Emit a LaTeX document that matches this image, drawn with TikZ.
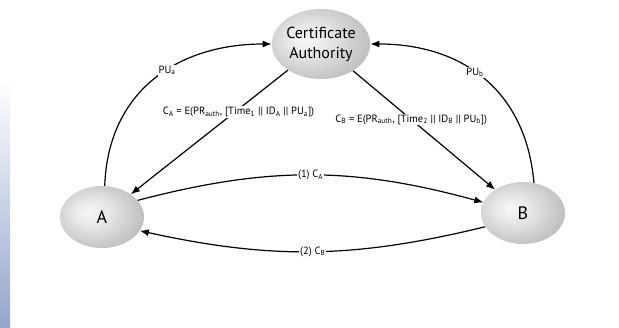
\documentclass[tikz,border=0pt]{standalone}
\usepackage{fontspec}
\setmainfont{PT Sans}
\usetikzlibrary{shapes.geometric,arrows.meta}
\pgfdeclareradialshading{partyball}{\pgfpoint{-8bp}{4bp}}{color(0bp)=(white!97!black); color(10bp)=(white!91!black); color(28bp)=(white!76!black); color(44bp)=(white!62!black); color(54bp)=(white!55!black); color(64bp)=(white!52!black)}
\definecolor{stripblue}{RGB}{148,166,204}
\begin{document}
\begin{tikzpicture}[x=1pt,y=1pt,
   party/.style={ellipse,shading=partyball,minimum width=84pt,minimum height=62pt,
     inner sep=0pt,font=\fontsize{16}{20}\selectfont},
   msg/.style={-{Latex[length=9pt,width=7pt]},line width=1.2pt},
   lbl/.style={fill=white,inner sep=1pt,font=\fontsize{10.5}{12}\selectfont}]
   \useasboundingbox (0,0) rectangle (619,327);
   \shade[top color=white,bottom color=stripblue] (0,0) rectangle (10,247);

   \node[party,minimum width=98pt,minimum height=70pt,align=center] (ca) at (321,283)
     {Certificate\\Authority};
   \node[party,font=\fontsize{18}{20}\selectfont] (a) at (102,110) {A};
   \node[party,font=\fontsize{18}{20}\selectfont] (b) at (523,114) {B};

   \draw[msg] (a.85) to[out=88,in=180,looseness=1.1]
     node[lbl,pos=0.57]{PU\textsubscript{a}} (ca.west);
   \draw[msg] (b.70) to[out=95,in=0,looseness=1.1]
     node[lbl,pos=0.55]{PU\textsubscript{b}} (ca.east);
   \draw[msg] (ca) -- node[lbl,pos=0.34,xshift=4pt]
     {C\textsubscript{A} = E(PR\textsubscript{auth}, [Time\textsubscript{1} || ID\textsubscript{A} || PU\textsubscript{a}])} (a);
   \draw[msg] (ca) -- node[lbl,pos=0.41]
     {C\textsubscript{B} = E(PR\textsubscript{auth}, [Time\textsubscript{2} || ID\textsubscript{B} || PU\textsubscript{b}])} (b);
   \draw[msg] (a.25) to[bend left=15] node[lbl]{(1) C\textsubscript{A}} (b.165);
   \draw[msg] (b.200) to[bend left=13] node[lbl]{(2) C\textsubscript{B}} (a.340);
\end{tikzpicture}
\end{document}
